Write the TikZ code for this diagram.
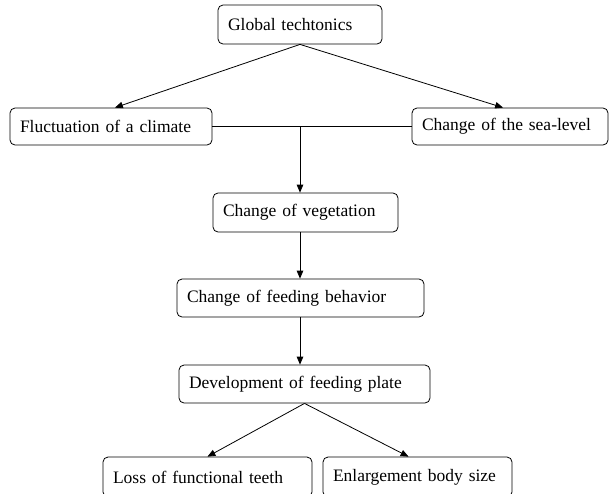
\documentclass[tikz,border=0pt]{standalone}
\usepackage{fontspec}
\setmainfont{Liberation Serif}
\usetikzlibrary{arrows}

\tikzset{box/.style={draw, rounded corners=5pt, minimum height=38pt, inner xsep=10pt,
    inner ysep=0pt, align=left, font=\fontsize{17.5}{21}\selectfont}}

\begin{document}
\begin{tikzpicture}[x=1pt, y=-1pt, >=triangle 45, line width=0.8pt]
  \useasboundingbox (0,0) rectangle (610,493);
  \node[box, text width=144pt, minimum height=39pt] (glob) at (300,24.5) {Global techtonics};
  \node[box, text width=182pt, minimum height=37pt] (clim) at (111,126.5) {Fluctuation of a climate};
  \node[box, text width=176pt, minimum height=37pt] (sea) at (510,126.5) {Change of the sea-level};
  \node[box, text width=165pt, minimum height=39pt] (veg) at (305.5,212.5) {Change of vegetation};
  \node[box, text width=227pt] (feed) at (300.5,298) {Change of feeding behavior};
  \node[box, text width=231pt] (plate) at (304.5,384) {Development of feeding plate};
  \node[box, text width=189pt, minimum height=40pt] (loss) at (207.5,477) {Loss of functional teeth};
  \node[box, text width=169pt, minimum height=40pt] (body) at (417.5,477) {Enlargement body size};
  \path[->]
  (glob.south) edge ([xshift=4pt]clim.north)
  edge ([xshift=-7pt]sea.north)
  (glob.south |- veg.south) edge (glob.south |- feed.north)
  (glob.south |- feed.south) edge (glob.south |- plate.north)
  (plate.south) edge (loss.north)
  edge ([xshift=-9pt]body.north)
  ;
  \draw (clim) -- (sea);
  \draw[->] (glob.south |- clim.east) -- (glob.south |- veg.north);
\end{tikzpicture}
\end{document}
